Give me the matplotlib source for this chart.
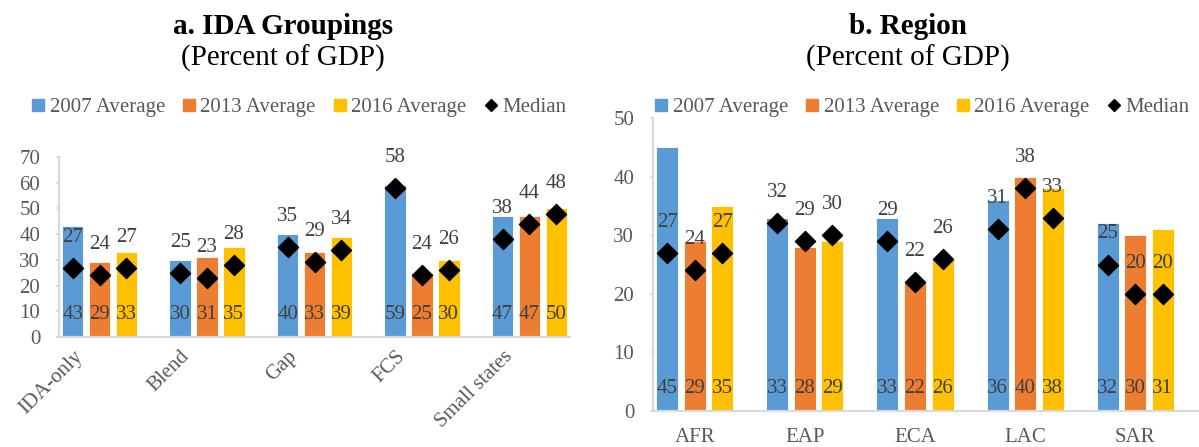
import matplotlib
matplotlib.use("Agg")
import matplotlib.pyplot as plt
import matplotlib.transforms as mtransforms
from matplotlib.lines import Line2D
import numpy as np

SERIF = ['Liberation Serif', 'DejaVu Serif']
plt.rcParams['font.family'] = SERIF
plt.rcParams['font.serif'] = ['Liberation Serif']

# ---- data ----
series_names = ["2007 Average", "2013 Average", "2016 Average"]
median_name = "Median"

ida_groups = ["IDA-only", "Blend", "Gap", "FCS", "Small states"]
ida_2007 = [43, 30, 40, 59, 47]
ida_2013 = [29, 31, 33, 25, 47]
ida_2016 = [33, 35, 39, 30, 50]
ida_med_2007 = [27, 25, 35, 58, 38]
ida_med_2013 = [24, 23, 29, 24, 44]
ida_med_2016 = [27, 28, 34, 26, 48]

regions = ["AFR", "EAP", "ECA", "LAC", "SAR"]
reg_2007 = [45, 33, 33, 36, 32]
reg_2013 = [29, 28, 22, 40, 30]
reg_2016 = [35, 29, 26, 38, 31]
reg_med_2007 = [27, 32, 29, 31, 25]
reg_med_2013 = [24, 29, 22, 38, 20]
reg_med_2016 = [27, 30, 26, 33, 20]

colors = ["#5B9BD5", "#ED7D31", "#FFC000"]
axis_grey = "#D9D9D9"
tick_grey = "#595959"
label_grey = "#404040"

W, H = 1199, 447
fig = plt.figure(figsize=(W / 100, H / 100), dpi=100)


def px_axes(x0, x1, y_top, y_bot):
    return fig.add_axes([x0 / W, (H - y_bot) / H, (x1 - x0) / W, (y_bot - y_top) / H])


def draw_panel(ax, cats, bars, medians, ymax, xlim, rotate):
    x = np.arange(len(cats))
    step, width = 0.25, 0.2
    for j, (vals, meds) in enumerate(zip(bars, medians)):
        xs = x + (j - 1) * step
        ax.bar(xs, vals, width=width, color=colors[j], edgecolor="white",
               linewidth=0.6, zorder=2)
        ax.scatter(xs, meds, marker="D", s=105, color="black", zorder=3)
        for xi, v, m in zip(xs, vals, meds):
            ax.annotate(f"{v:d}", (xi, 0), xytext=(0, 16.5), textcoords="offset points",
                        ha="center", va="center", fontsize=15, color=label_grey,
                        family=SERIF, zorder=4)
            ax.annotate(f"{m:d}", (xi, m), xytext=(0, 22), textcoords="offset points",
                        ha="center", va="center", fontsize=15, color=label_grey,
                        family=SERIF, zorder=4)
    ax.set_ylim(0, ymax)
    ax.set_xlim(*xlim)
    ax.set_yticks(np.arange(0, ymax + 1, 10))
    ax.set_xticks(x)
    for s in ["top", "right"]:
        ax.spines[s].set_visible(False)
    for s in ["left", "bottom"]:
        ax.spines[s].set_color(axis_grey)
        ax.spines[s].set_linewidth(1.6)
    ax.tick_params(axis="y", direction="out", length=2.5, width=1.2, color=axis_grey,
                   pad=11, labelsize=15, labelcolor=tick_grey)
    if rotate:
        ax.set_xticklabels(cats, rotation=45, ha="right", va="center",
                           rotation_mode="anchor")
        ax.tick_params(axis="x", length=0, pad=12, labelsize=15, labelcolor=tick_grey)
        shift = mtransforms.ScaledTranslation(-0.2, 0, fig.dpi_scale_trans)
        for lab in ax.get_xticklabels():
            lab.set_transform(lab.get_transform() + shift)
    else:
        ax.set_xticklabels(cats)
        ax.tick_params(axis="x", length=0, pad=12, labelsize=15, labelcolor=tick_grey)
    for lab in ax.get_xticklabels() + ax.get_yticklabels():
        lab.set_family(SERIF)


ax1 = px_axes(59, 570, 157, 337)
draw_panel(ax1, ida_groups, [ida_2007, ida_2013, ida_2016],
           [ida_med_2007, ida_med_2013, ida_med_2016], 70, (-0.377, 4.377), True)

ax2 = px_axes(653, 1199, 118, 411)
draw_panel(ax2, regions, [reg_2007, reg_2013, reg_2016],
           [reg_med_2007, reg_med_2013, reg_med_2016], 50, (-0.38, 4.58), False)

# titles
for cx, t in [(283, "a. IDA Groupings"), (908, "b. Region")]:
    fig.text(cx / W, (H - 27) / H, t, ha="center", va="center", fontsize=21,
             fontweight="bold", color="black", family=SERIF)
    fig.text(cx / W, (H - 58) / H, "(Percent of GDP)", ha="center", va="center",
             fontsize=21, color="black", family=SERIF)

# legends
handles = [Line2D([], [], ls="none", marker="s", markersize=8.5, markerfacecolor=c,
                  markeredgecolor=c) for c in colors]
handles.append(Line2D([], [], ls="none", marker="D", markersize=6,
                      markerfacecolor="black", markeredgecolor="black"))
labels = series_names + [median_name]
for cx in (298, 921):
    fig.legend(handles, labels, loc="center", bbox_to_anchor=(cx / W, (H - 107) / H),
               ncol=4, frameon=False, labelcolor=tick_grey,
               prop={"family": SERIF, "size": 15},
               handlelength=0.8, handletextpad=0.15, columnspacing=0.75,
               borderaxespad=0, borderpad=0)

fig.savefig("out.png", dpi=100)
